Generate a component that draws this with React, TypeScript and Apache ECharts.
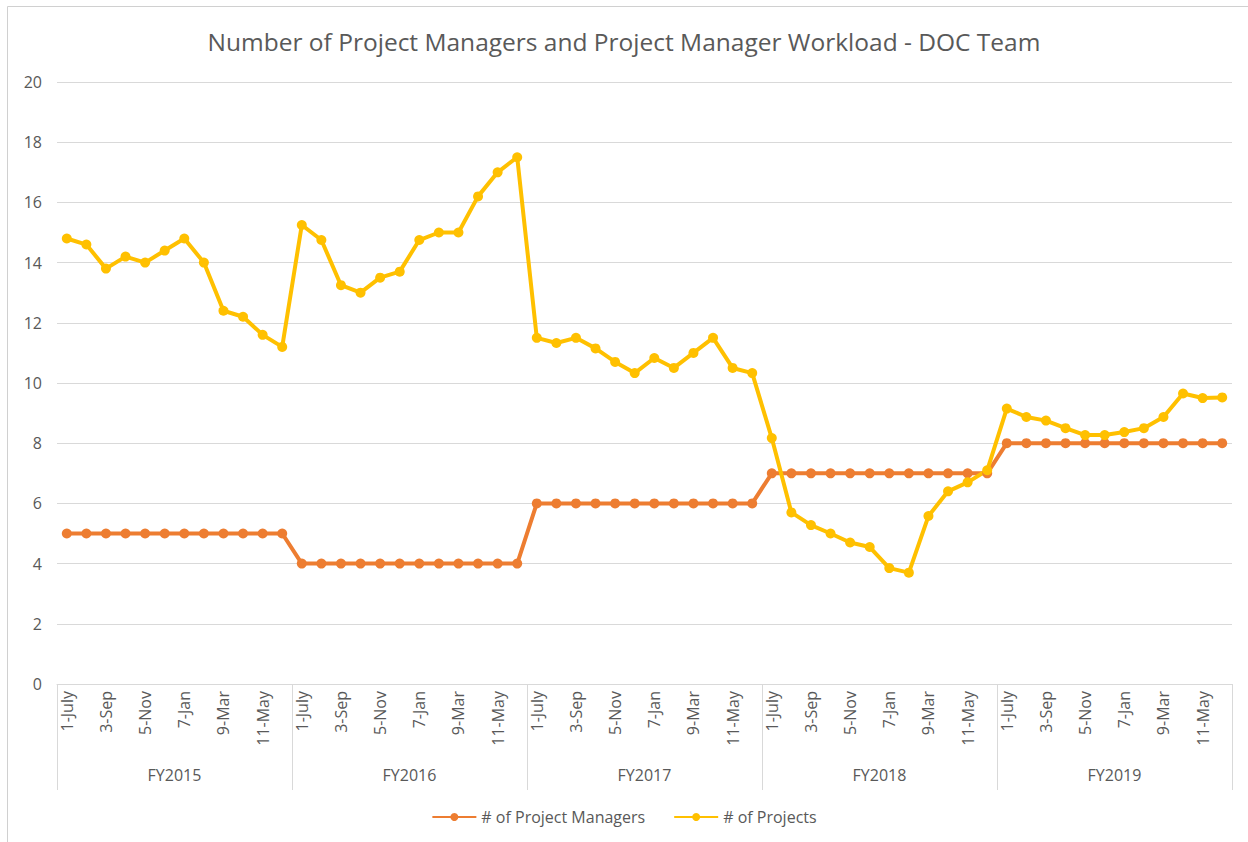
import React, { useEffect, useRef } from "react";
import * as echarts from "echarts";

const fiscalYears = ["FY2015", "FY2016", "FY2017", "FY2018", "FY2019"];
const months = ["1-July", "2-Aug", "3-Sep", "4-Oct", "5-Nov", "6-Dec", "7-Jan", "8-Feb", "9-Mar", "10-Apr", "11-May", "12-Jun"];

const managersFY2015 = [5, 5, 5, 5, 5, 5, 5, 5, 5, 5, 5, 5];
const managersFY2016 = [4, 4, 4, 4, 4, 4, 4, 4, 4, 4, 4, 4];
const managersFY2017 = [6, 6, 6, 6, 6, 6, 6, 6, 6, 6, 6, 6];
const managersFY2018 = [7, 7, 7, 7, 7, 7, 7, 7, 7, 7, 7, 7];
const managersFY2019 = [8, 8, 8, 8, 8, 8, 8, 8, 8, 8, 8, 8];

const projectsFY2015 = [14.8, 14.6, 13.8, 14.2, 14.0, 14.4, 14.8, 14.0, 12.4, 12.2, 11.6, 11.2];
const projectsFY2016 = [15.25, 14.75, 13.25, 13.0, 13.5, 13.7, 14.75, 15.0, 15.0, 16.2, 17.0, 17.5];
const projectsFY2017 = [11.5, 11.33, 11.5, 11.15, 10.7, 10.33, 10.83, 10.5, 11.0, 11.5, 10.5, 10.33];
const projectsFY2018 = [8.17, 5.7, 5.28, 5.0, 4.7, 4.55, 3.85, 3.7, 5.58, 6.4, 6.7, 7.1];
const projectsFY2019 = [9.15, 8.87, 8.75, 8.5, 8.27, 8.27, 8.37, 8.5, 8.87, 9.65, 9.5, 9.52];

const yTicks = { min: 0, max: 20, interval: 2 };

const monthCategories = fiscalYears.flatMap(() => months.map((m) => m));
const managers = [...managersFY2015, ...managersFY2016, ...managersFY2017, ...managersFY2018, ...managersFY2019];
const projects = [...projectsFY2015, ...projectsFY2016, ...projectsFY2017, ...projectsFY2018, ...projectsFY2019];

const TEXT = "#595959";
const GRID = "#d9d9d9";
const FONT = "'Open Sans', 'Liberation Sans', sans-serif";

export default function App() {
  const ref = useRef<HTMLDivElement>(null);
  useEffect(() => {
    if (!ref.current) return;
    const chart = echarts.init(ref.current, undefined, { renderer: "svg" });
    chart.setOption({
      animation: false,
      backgroundColor: "#ffffff",
      textStyle: { fontFamily: FONT },
      title: {
        text: "Number of Project Managers and Project Manager Workload - DOC Team",
        left: "center",
        top: 24,
        textStyle: { fontSize: 24.5, fontWeight: "normal", color: TEXT, fontFamily: FONT },
      },
      graphic: [
        {
          type: "rect",
          shape: { x: 7.5, y: 6.5, width: 1300, height: 900 },
          style: { fill: "none", stroke: "#d0d0d0", lineWidth: 1 },
          silent: true,
        },
      ],
      legend: {
        bottom: 12,
        left: "center",
        itemWidth: 44,
        itemHeight: 10,
        itemGap: 28,
        textStyle: { fontSize: 16, color: TEXT, fontFamily: FONT },
        data: ["# of Project Managers", "# of Projects"],
      },
      grid: { left: 57, right: 16, top: 82, bottom: 158, containLabel: false },
      xAxis: [
        {
          type: "category",
          data: monthCategories,
          boundaryGap: true,
          axisLine: { show: true, lineStyle: { color: GRID, width: 1 } },
          axisTick: { show: false },
          axisLabel: {
            interval: 1,
            rotate: 90,
            margin: 7,
            fontSize: 16,
            color: TEXT,
            fontFamily: FONT,
          },
        },
        {
          type: "category",
          data: fiscalYears,
          position: "bottom",
          boundaryGap: true,
          axisLine: { show: false },
          axisTick: { show: true, interval: 0, length: 106, lineStyle: { color: GRID, width: 1 } },
          axisLabel: { margin: 83, fontSize: 16, color: TEXT, fontFamily: FONT },
          splitLine: { show: false },
        },
      ],
      yAxis: {
        type: "value",
        min: yTicks.min,
        max: yTicks.max,
        interval: yTicks.interval,
        axisLine: { show: false },
        axisTick: { show: false },
        axisLabel: { fontSize: 16, color: TEXT, margin: 15, fontFamily: FONT },
        splitLine: { lineStyle: { color: GRID, width: 1 } },
      },
      series: [
        {
          name: "# of Project Managers",
          type: "line",
          xAxisIndex: 0,
          data: managers,
          color: "#ED7D31",
          lineStyle: { width: 4, color: "#ED7D31" },
          symbol: "circle",
          symbolSize: 10,
          itemStyle: { color: "#ED7D31" },
        },
        {
          name: "# of Projects",
          type: "line",
          xAxisIndex: 0,
          data: projects,
          color: "#FFC000",
          lineStyle: { width: 4, color: "#FFC000" },
          symbol: "circle",
          symbolSize: 10,
          itemStyle: { color: "#FFC000" },
        },
      ],
    });
    return () => chart.dispose();
  }, []);
  return (
    <div
      ref={ref}
      style={{ position: "fixed", left: 0, top: 0, width: 1248, height: 842 }}
    />
  );
}
